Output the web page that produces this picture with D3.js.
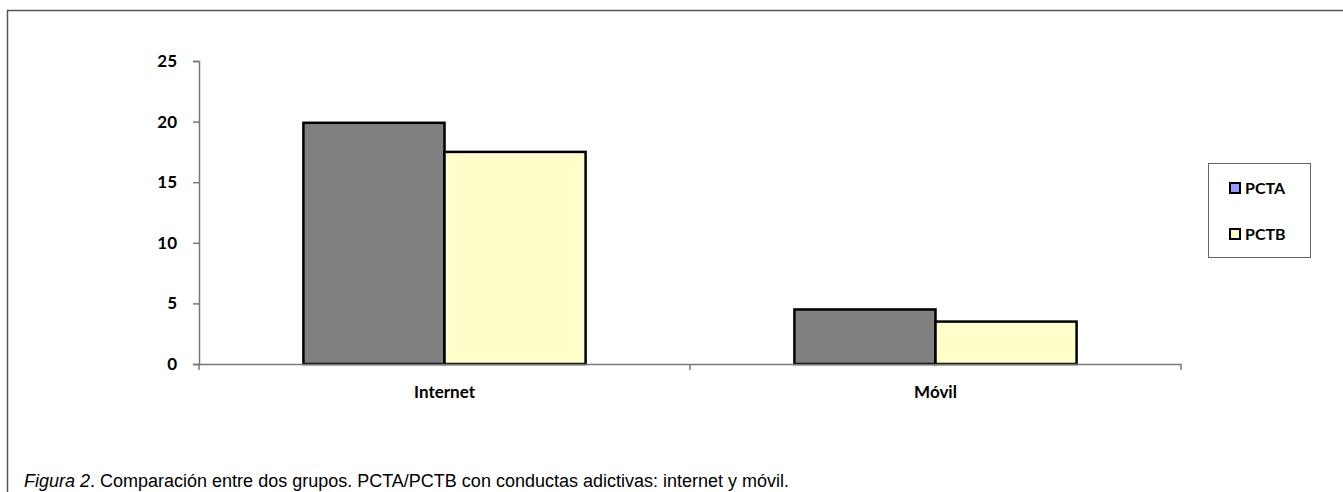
<!DOCTYPE html>
<html>
<head>
<meta charset="utf-8">
<script src="https://cdn.jsdelivr.net/npm/d3@7"></script>
<style>
  body { margin: 0; background: #fff; }
  svg { display: block; }
</style>
</head>
<body>
<svg id="chart" width="1343" height="492"></svg>
<script>
// Data
var categories = ['Internet', 'Móvil'];
var seriesNames = ['PCTA', 'PCTB'];
var pctaValues = [19.9, 4.5];
var pctbValues = [17.5, 3.5];
var yTicks = [0, 5, 10, 15, 20, 25];

// Fill of the bars and of the legend swatches (legend A differs, as in the source)
var barColors = ['#808080', '#ffffcc'];
var legendColors = ['#9999ff', '#ffffcc'];

var svg = d3.select('#chart');
var font = "Lato, 'Open Sans', sans-serif";

// Outer frame (only top and left edges are visible)
svg.append('path')
  .attr('d', 'M7.5,492 L7.5,10.5 L1343,10.5')
  .attr('fill', 'none')
  .attr('stroke', '#555')
  .attr('stroke-width', 1.5);

var plot = { left: 199, right: 1181, top: 61, bottom: 364 };

var x0 = d3.scaleBand()
  .domain(categories)
  .range([plot.left, plot.right])
  .paddingInner(0)
  .paddingOuter(0);

// Gap width ~150% of a bar in each category
var x1 = d3.scaleBand()
  .domain(seriesNames)
  .range([0, x0.bandwidth()])
  .paddingInner(0)
  .paddingOuter(0.74);

var y = d3.scaleLinear()
  .domain([0, 25])
  .range([plot.bottom, plot.top]);

// Y axis
var yAxis = svg.append('g')
  .attr('transform', 'translate(' + plot.left + ',0)')
  .call(d3.axisLeft(y).tickValues(yTicks).tickSize(6).tickPadding(16));
yAxis.select('.domain').attr('stroke', '#777').attr('stroke-width', 1.5);
yAxis.selectAll('.tick line').attr('stroke', '#777').attr('stroke-width', 1.5);
yAxis.selectAll('.tick text')
  .attr('font-family', font)
  .attr('font-weight', 'bold')
  .attr('font-size', 17)
  .attr('fill', '#000');

// Bars
var rows = categories.map(function(c, i) {
  return { cat: c, vals: [pctaValues[i], pctbValues[i]] };
});

var groups = svg.append('g').selectAll('g')
  .data(rows)
  .join('g')
  .attr('transform', function(d) { return 'translate(' + x0(d.cat) + ',0)'; });

groups.selectAll('rect')
  .data(function(d) {
    return d.vals.map(function(v, j) { return { key: seriesNames[j], value: v, j: j }; });
  })
  .join('rect')
  .attr('x', function(d) { return x1(d.key); })
  .attr('width', x1.bandwidth())
  .attr('y', function(d) { return y(d.value); })
  .attr('height', function(d) { return y(0) - y(d.value); })
  .attr('fill', function(d) { return barColors[d.j]; })
  .attr('stroke', '#000')
  .attr('stroke-width', 2.5);

// X axis
var xAxis = svg.append('g')
  .attr('transform', 'translate(0,' + plot.bottom + ')')
  .call(d3.axisBottom(x0).tickSize(0).tickPadding(22));
xAxis.select('.domain').attr('stroke', '#777').attr('stroke-width', 1.5);
xAxis.selectAll('.tick text')
  .attr('font-family', font)
  .attr('font-weight', 'bold')
  .attr('font-size', 17)
  .attr('fill', '#000');

// Category boundary ticks
svg.append('g').selectAll('line')
  .data(categories.concat(['end']))
  .join('line')
  .attr('x1', function(d, i) { return i < categories.length ? x0(d) : plot.right; })
  .attr('x2', function(d, i) { return i < categories.length ? x0(d) : plot.right; })
  .attr('y1', plot.bottom)
  .attr('y2', plot.bottom + 6)
  .attr('stroke', '#777')
  .attr('stroke-width', 1.5);

// Legend
var legend = svg.append('g');
legend.append('rect')
  .attr('x', 1208.5).attr('y', 163.5)
  .attr('width', 102).attr('height', 94)
  .attr('fill', '#fff')
  .attr('stroke', '#666')
  .attr('stroke-width', 1);

var items = legend.selectAll('g.item')
  .data(seriesNames)
  .join('g')
  .attr('class', 'item')
  .attr('transform', function(d, i) { return 'translate(1230,' + (188 + i * 46) + ')'; });

items.append('rect')
  .attr('x', 0).attr('y', -5)
  .attr('width', 10).attr('height', 10)
  .attr('fill', function(d, i) { return legendColors[i]; })
  .attr('stroke', '#000')
  .attr('stroke-width', 2);

items.append('text')
  .attr('x', 15).attr('y', 0)
  .attr('dy', '0.35em')
  .attr('font-family', font)
  .attr('font-weight', 'bold')
  .attr('font-size', 16)
  .text(function(d) { return d; });

// Caption
var caption = svg.append('text')
  .attr('x', 24).attr('y', 487)
  .attr('font-family', "'Liberation Sans', Arial, sans-serif")
  .attr('font-size', 18)
  .attr('fill', '#000');
caption.append('tspan').attr('font-style', 'italic').text('Figura 2');
caption.append('tspan').text('. Comparación entre dos grupos. PCTA/PCTB con conductas adictivas: internet y móvil.');
</script>
</body>
</html>
